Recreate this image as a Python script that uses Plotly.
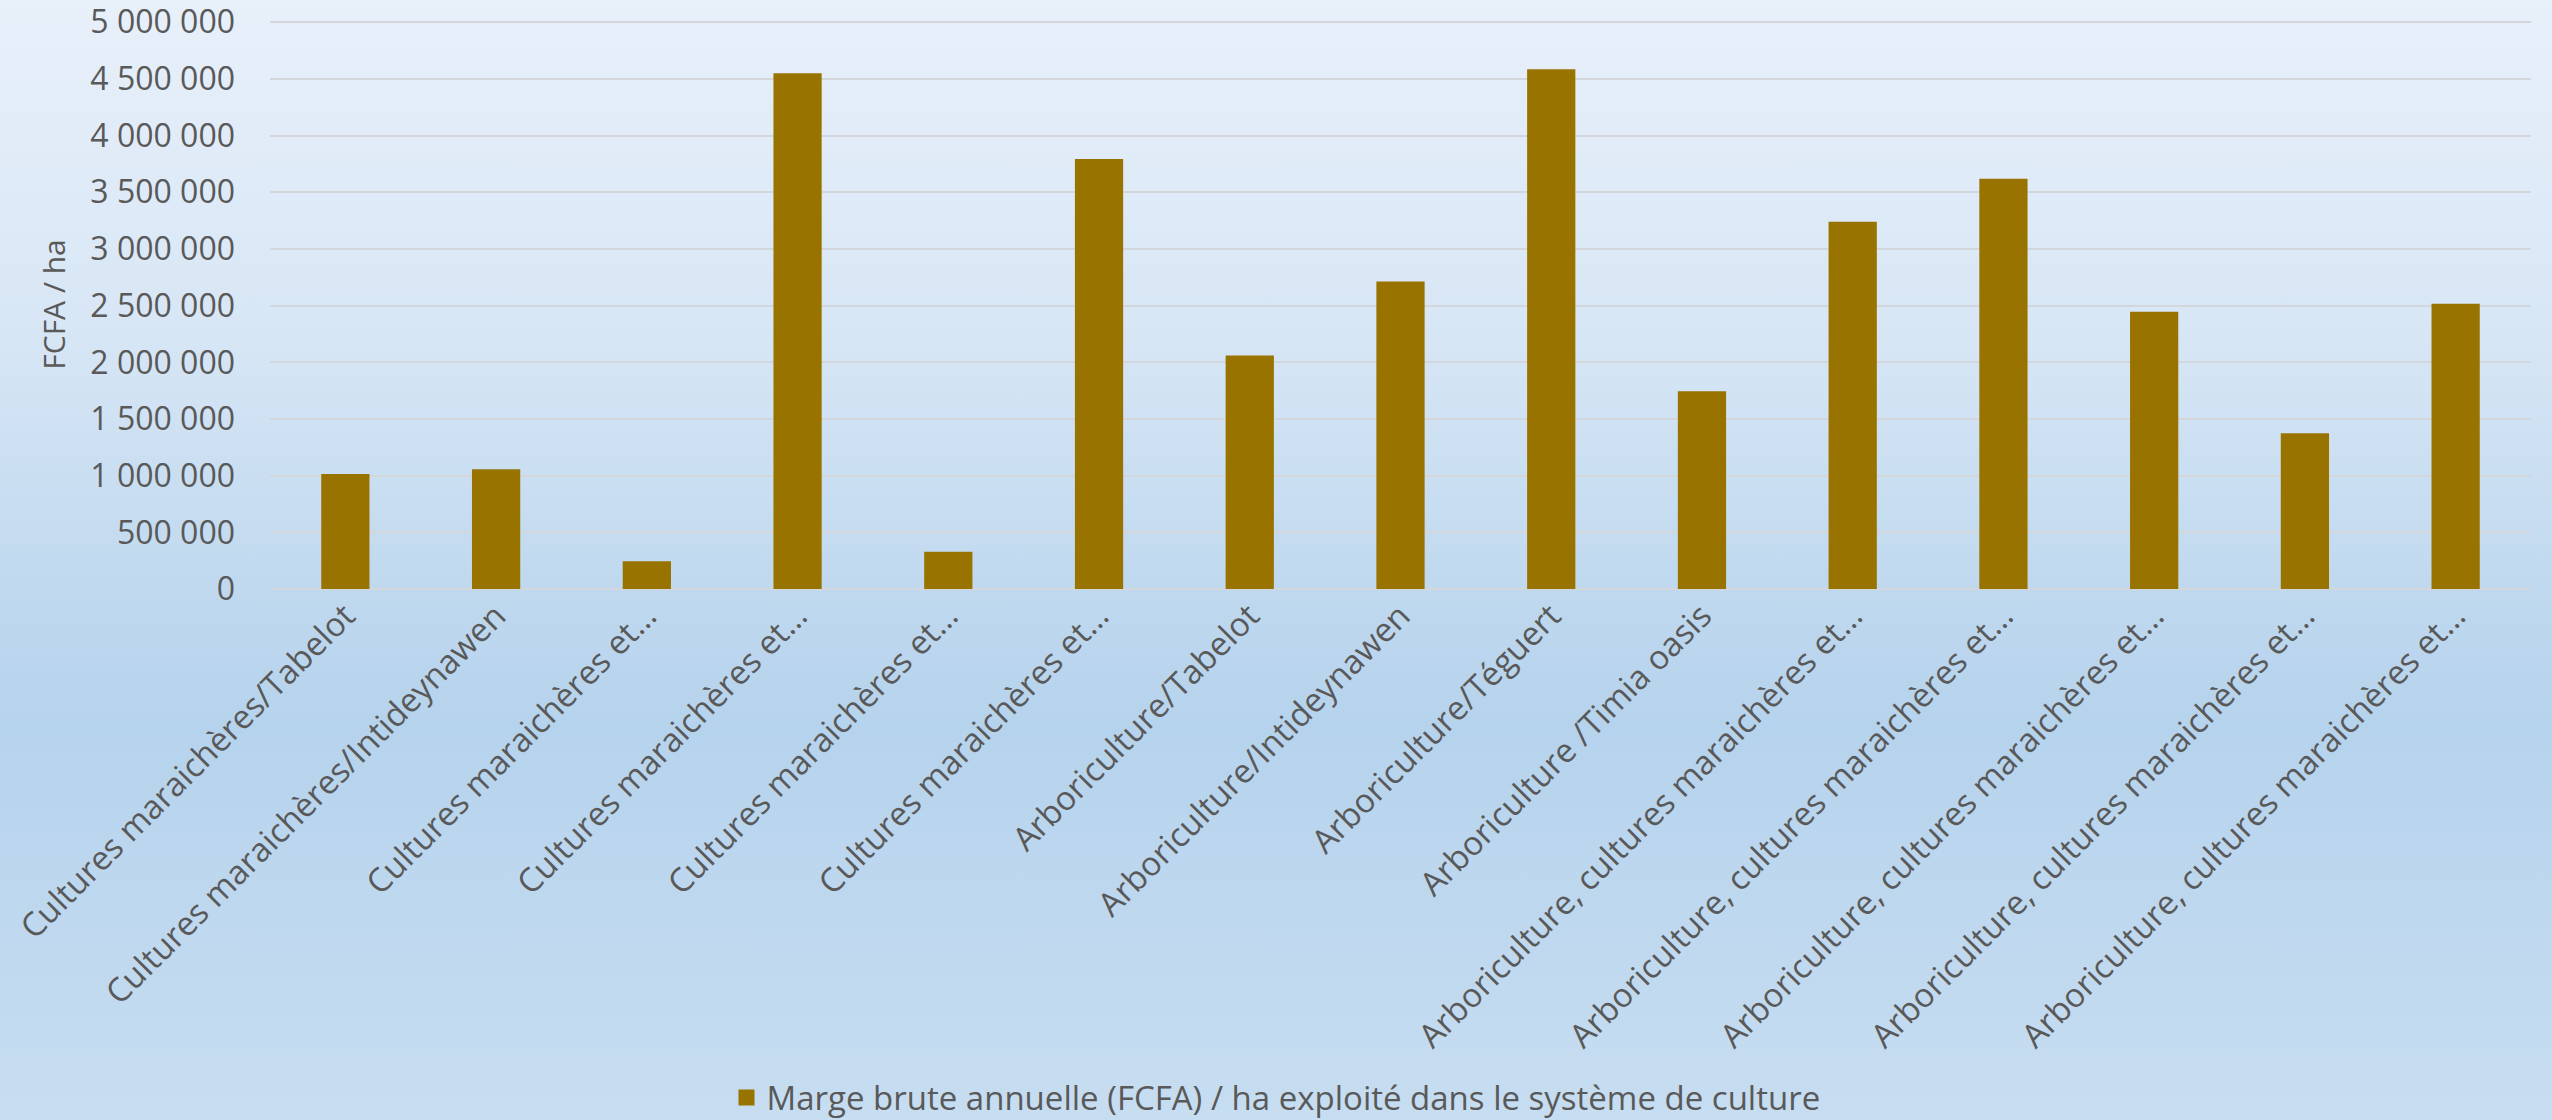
import base64
import plotly.graph_objects as go

# Cropping systems (labels as displayed, long names truncated)
categories = [
    "Cultures maraichères/Tabelot",
    "Cultures maraichères/Intideynawen",
    "Cultures maraichères et…",
    "Cultures maraichères et…",
    "Cultures maraichères et…",
    "Cultures maraichères et…",
    "Arboriculture/Tabelot",
    "Arboriculture/Intideynawen",
    "Arboriculture/Téguert",
    "Arboriculture /Timia oasis",
    "Arboriculture, cultures maraichères et…",
    "Arboriculture, cultures maraichères et…",
    "Arboriculture, cultures maraichères et…",
    "Arboriculture, cultures maraichères et…",
    "Arboriculture, cultures maraichères et…",
]

# Annual gross margin (FCFA) per cultivated hectare
marge_brute = [
    1015000, 1057000, 245000, 4551000, 328000,
    3793000, 2059000, 2712000, 4586000, 1745000,
    3239000, 3619000, 2447000, 1375000, 2516000,
]

series_name = "Marge brute annuelle (FCFA) / ha exploité dans le système de culture"
y_ticks = [0, 500000, 1000000, 1500000, 2000000, 2500000,
           3000000, 3500000, 4000000, 4500000, 5000000]

positions = list(range(len(categories)))

W, H = 2552, 1120
L, R, T, B = 270, 21, 20, 531
pw, ph = W - L - R, H - T - B

# Vertical background gradient as an SVG image
svg = (
    '<svg xmlns="http://www.w3.org/2000/svg" width="100" height="100" '
    'viewBox="0 0 100 100" preserveAspectRatio="none">'
    '<defs><linearGradient id="g" x1="0" y1="0" x2="0" y2="1">'
    '<stop offset="0" stop-color="#E8F0FA"/>'
    '<stop offset="0.3" stop-color="#D7E6F5"/>'
    '<stop offset="0.55" stop-color="#BDD7EE"/>'
    '<stop offset="0.65" stop-color="#B6D3ED"/>'
    '<stop offset="1" stop-color="#C7DDF1"/>'
    '</linearGradient></defs>'
    '<rect x="0" y="0" width="100" height="100" fill="url(#g)"/></svg>'
)
bg_src = "data:image/svg+xml;base64," + base64.b64encode(svg.encode()).decode()

gold = "#997300"
grey_text = "#595959"
grid = "#D3D7DC"

fig = go.Figure()
fig.add_trace(go.Bar(
    x=positions,
    y=marge_brute,
    width=0.32,
    marker=dict(color=gold, line=dict(width=0)),
    name=series_name,
    showlegend=False,
))
# Legend entry with a square swatch
fig.add_trace(go.Scatter(
    x=[None], y=[None],
    mode="markers",
    marker=dict(symbol="square", size=16, color=gold),
    name=series_name,
    showlegend=True,
))

fig.update_layout(
    width=W, height=H,
    margin=dict(l=L, r=R, t=T, b=B, autoexpand=False),
    paper_bgcolor="#C8DEF2",
    plot_bgcolor="rgba(0,0,0,0)",
    separators=", ",
    font=dict(family="Open Sans", color=grey_text, size=32),
    images=[dict(
        source=bg_src, xref="paper", yref="paper",
        x=-L / pw, y=1 + T / ph, sizex=W / pw, sizey=H / ph,
        xanchor="left", yanchor="top", sizing="stretch", layer="below",
    )],
    showlegend=True,
    legend=dict(
        orientation="h",
        xref="container", yref="container",
        x=0.5, xanchor="center", y=0.02, yanchor="middle",
        font=dict(family="Open Sans", size=33, color=grey_text),
        bgcolor="rgba(0,0,0,0)",
        itemwidth=30,
    ),
    xaxis=dict(
        range=[-0.5, len(categories) - 0.5],
        tickmode="array",
        tickvals=positions,
        ticktext=categories,
        tickangle=-45,
        tickfont=dict(family="Open Sans", size=33, color=grey_text),
        showgrid=False, showline=False, zeroline=False,
        ticks="", ticklabelstandoff=0,
        automargin=False,
    ),
    yaxis=dict(
        range=[0, 5020000],
        tickmode="array",
        tickvals=y_ticks,
        tickformat=",d",
        tickfont=dict(family="Open Sans", size=32, color=grey_text),
        ticklabeloverflow="allow",
        showgrid=True, gridcolor=grid, gridwidth=2,
        zeroline=True, zerolinecolor=grid, zerolinewidth=2,
        showline=False, ticks="", ticklabelstandoff=34,
        title=dict(text="FCFA / ha", standoff=15,
                   font=dict(family="Open Sans", size=30, color=grey_text)),
        automargin=False,
    ),
)

fig.write_html("out.html")
